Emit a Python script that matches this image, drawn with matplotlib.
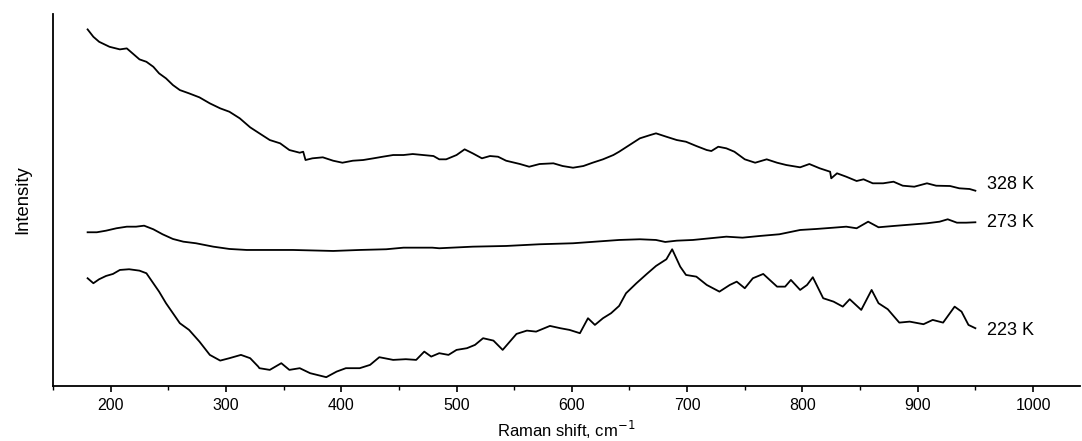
import matplotlib
matplotlib.use('Agg')
import matplotlib.pyplot as plt
from matplotlib.ticker import MultipleLocator

plt.rcParams['font.family'] = ['Liberation Sans', 'DejaVu Sans']

# Raman shift (cm-1) and intensity (arb. units)
x_328 = [180, 185, 190, 199, 208, 214, 219, 225, 231, 237, 242, 248, 254, 260, 268, 277, 286, 295,
         303, 312, 321, 329, 338, 347, 355, 364, 367, 369, 375, 384, 393, 401, 410, 419, 428, 436,
         445, 454, 462, 471, 480, 485, 491, 500, 507, 514, 522, 529, 536, 543, 555, 563, 572, 584,
         592, 601, 610, 618, 627, 636, 641, 650, 659, 668, 673, 682, 691, 699, 708, 717, 721, 727,
         734, 741, 750, 759, 769, 778, 786, 798, 806, 815, 824, 825, 830, 838, 847, 853, 861, 870,
         879, 887, 897, 908, 916, 928, 936, 945, 950]
y_328 = [356.7, 349.3, 344.3, 339.3, 336.7, 337.7, 332.7, 326.7, 324.3, 319.3, 312.7, 307.7, 301.0,
         296.0, 292.7, 288.7, 282.7, 277.7, 274.3, 267.7, 258.7, 252.7, 246.0, 242.7, 236.0, 233.3,
         234.3, 226.0, 227.7, 228.7, 225.3, 223.3, 225.3, 226.0, 227.7, 229.3, 231.0, 231.0, 232.0,
         231.0, 230.0, 226.7, 226.7, 231.0, 236.7, 232.7, 227.7, 230.0, 229.3, 225.3, 222.0, 219.3,
         222.0, 222.7, 220.0, 218.3, 220.0, 223.3, 226.7, 231.0, 234.3, 241.0, 247.7, 251.0, 252.7,
         249.3, 246.0, 244.3, 240.0, 236.0, 235.0, 239.3, 237.7, 234.3, 226.7, 223.3, 226.7, 223.3,
         221.0, 218.7, 222.0, 217.7, 214.3, 207.7, 212.7, 209.3, 205.0, 206.7, 202.7, 202.7, 204.3,
         200.3, 199.3, 202.7, 200.3, 200.0, 197.7, 197.0, 195.3]

x_273 = [180, 188, 196, 205, 214, 222, 229, 237, 245, 254, 263, 274, 289, 303, 318, 329, 358, 393,
         416, 439, 454, 479, 485, 514, 543, 572, 601, 641, 659, 673, 681, 691, 705, 720, 734, 748,
         763, 780, 798, 812, 827, 838, 847, 857, 866, 879, 893, 908, 919, 926, 934, 942, 950]
y_273 = [153.7, 153.7, 155.3, 157.7, 159.3, 159.3, 160.3, 156.7, 151.7, 147.0, 144.3, 142.7, 139.3,
         137.0, 136.0, 136.0, 136.0, 135.0, 136.0, 136.7, 138.3, 138.3, 137.7, 139.3, 140.0, 141.7,
         142.7, 146.0, 146.7, 146.0, 144.0, 145.3, 146.0, 147.7, 149.3, 148.3, 150.0, 151.7, 156.0,
         157.0, 158.3, 159.3, 157.7, 164.3, 158.7, 160.0, 161.3, 162.7, 164.3, 166.7, 163.3, 163.3,
         163.7]

x_223 = [180, 185, 190, 196, 202, 208, 216, 225, 231, 235, 242, 248, 254, 260, 268, 277, 286, 295,
         303, 313, 321, 328, 329, 338, 348, 355, 364, 373, 387, 396, 404, 416, 425, 433, 445, 456,
         465, 472, 478, 485, 493, 500, 509, 516, 523, 532, 540, 552, 561, 569, 581, 590, 598, 607,
         614, 620, 627, 634, 641, 647, 656, 665, 673, 682, 687, 694, 699, 708, 717, 728, 737, 743,
         750, 757, 766, 778, 785, 790, 798, 804, 809, 818, 827, 835, 841, 851, 860, 866, 874, 884,
         893, 905, 913, 922, 932, 938, 944, 950]
y_223 = [107.7, 102.7, 106.7, 110.0, 112.0, 116.0, 116.7, 115.3, 112.7, 106.0, 94.3, 82.7, 72.7,
         62.7, 56.0, 44.3, 31.0, 25.3, 27.7, 31.0, 27.7, 19.3, 17.7, 16.0, 22.7, 16.0, 17.7, 12.7,
         8.7, 14.3, 17.7, 17.7, 21.0, 28.7, 26.0, 26.7, 26.0, 34.3, 29.3, 32.7, 31.0, 36.0, 37.7,
         41.0, 47.7, 45.3, 36.0, 52.0, 55.3, 54.3, 60.0, 57.7, 56.0, 52.7, 67.7, 61.0, 67.7, 72.7,
         80.0, 92.7, 102.7, 112.0, 120.0, 126.7, 136.7, 119.3, 111.0, 109.3, 101.0, 94.3, 101.0,
         104.3, 97.7, 107.7, 112.0, 99.3, 99.3, 106.0, 96.0, 101.0, 108.7, 87.7, 84.3, 79.3, 86.7,
         76.0, 96.0, 82.7, 76.7, 63.3, 64.3, 61.7, 66.0, 63.3, 79.3, 74.3, 61.0, 57.7]

labels = ['328 K', '273 K', '223 K']
label_y = [197, 159, 51]

fig = plt.figure(figsize=(10.82, 4.41), dpi=100)
ax = fig.add_axes([0.049, 0.125, 0.949, 0.843])

for xs, ys in [(x_328, y_328), (x_273, y_273), (x_223, y_223)]:
    ax.plot(xs, ys, color='black', lw=1.3)

for lab, ly in zip(labels, label_y):
    ax.text(960, ly, lab, fontsize=13, va='baseline', ha='left')

ax.set_xlim(150, 1040.6)
ax.set_ylim(0, 372)
ax.xaxis.set_minor_locator(MultipleLocator(50))
ax.set_xticks(range(200, 1001, 100))
ax.tick_params(axis='x', which='major', direction='out', length=4, width=1.2, labelsize=11.5, pad=5)
ax.tick_params(axis='x', which='minor', direction='out', length=3, width=1.0)
ax.set_yticks([])
for s in ['top', 'right']:
    ax.spines[s].set_visible(False)
for s in ['left', 'bottom']:
    ax.spines[s].set_linewidth(1.3)

ax.set_xlabel('Raman shift, cm$^{-1}$', fontsize=12, labelpad=4)
ax.set_ylabel('Intensity', fontsize=13.3, labelpad=16)

fig.savefig('out.png', dpi=100)
